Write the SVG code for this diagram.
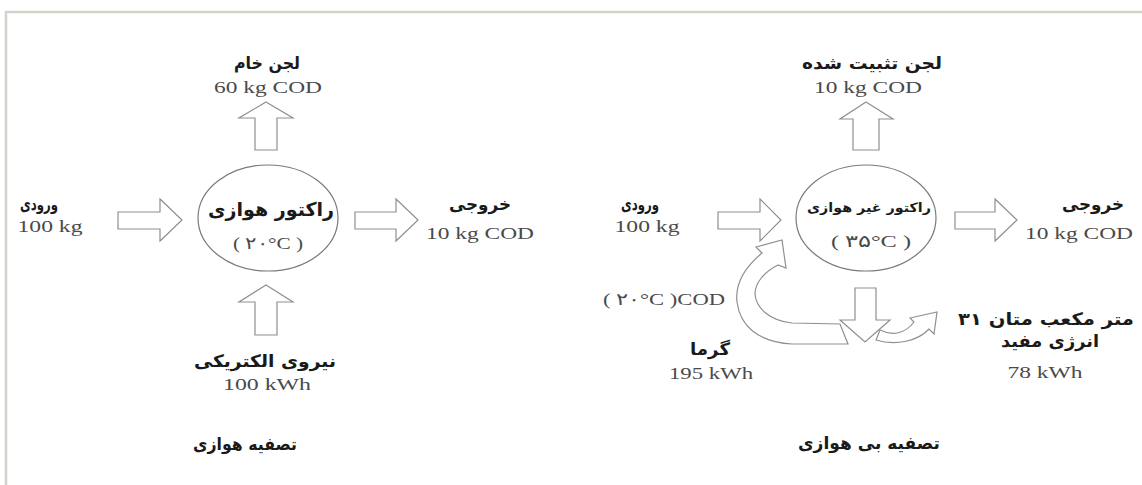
<svg xmlns="http://www.w3.org/2000/svg" width="1142" height="485" viewBox="0 0 1142 485">
<style>
.fa{font-family:"DejaVu Sans","Noto Sans",sans-serif;font-weight:bold;font-size:17px;fill:#1a1a1a;direction:rtl;text-anchor:middle}
.num{font-family:"Liberation Serif","Times New Roman",serif;font-size:17px;fill:#4a4a4a;text-anchor:middle}
.arr{fill:#fff;stroke:#8f8f8f;stroke-width:1.2;stroke-linejoin:miter}
.reac{fill:#fff;stroke:#7a7a7a;stroke-width:1.2}
.border{stroke:#d2d3cb;stroke-width:2.5;fill:none}
</style>
<rect width="1142" height="485" fill="#fff"/>
<path class="border" d="M6,485 V12 H1142"/>

<g id="connectors">
  <polygon class="arr" points="266,102 293,118 277,118 277,150 255,150 255,118 239,118"/>
  <polygon class="arr" points="266,285 293,302 277,302 277,335 255,335 255,302 239,302"/>
  <polygon class="arr" points="118,212 160,212 160,199 182,220 160,241 160,229 118,229"/>
  <polygon class="arr" points="355,212 396,212 396,199 418,220 396,241 396,229 355,229"/>
  <polygon class="arr" points="866,102 893,119 879,119 879,150 853,150 853,119 840,119"/>
  <polygon class="arr" points="718,212 760,212 760,199 781,220 760,241 760,229 718,229"/>
  <polygon class="arr" points="955,212 995,212 995,199 1017,220 995,241 995,229 955,229"/>
  <polygon class="arr" points="855,288 876,288 876,320 890,320 865,342 840,320 855,320"/>
  <path class="arr" d="M762,253 C744,268 735,285 737,302 C740,326 758,342 792,344 L848,344 L840,324 L792,323 C770,321 756,308 755,294 C755,283 764,272 778,265 L786,268 L782,240 L756,247 Z"/>
  <path class="arr" d="M880,330 C892,336 905,334 914,322 L910,318 L937,312 L934,334 L929,329 C918,341 896,346 876,340 Z"/>
</g>

<g id="aerobic-reactor">
  <ellipse class="reac" cx="268" cy="218" rx="70" ry="53"/>
  <text class="fa" x="271" y="216" style="font-size:19px" textLength="126" lengthAdjust="spacingAndGlyphs">راکتور هوازی</text>
  <text class="num" x="268" y="249" style="direction:ltr" textLength="70" lengthAdjust="spacingAndGlyphs">( ۲۰°C )</text>
</g>

<g id="anaerobic-reactor">
  <ellipse class="reac" cx="866" cy="218" rx="70" ry="53"/>
  <text class="fa" x="869" y="212" style="font-size:13px" textLength="124" lengthAdjust="spacingAndGlyphs">راکتور غیر هوازی</text>
  <text class="num" x="871" y="247" style="direction:ltr" textLength="80" lengthAdjust="spacingAndGlyphs">( ۳۵°C )</text>
</g>

<g id="aerobic-sludge">
  <text class="fa" x="267" y="69" textLength="66" lengthAdjust="spacingAndGlyphs">لجن خام</text>
  <text class="num" x="268" y="93" textLength="108" lengthAdjust="spacingAndGlyphs">60 kg COD</text>
</g>
<g id="aerobic-input">
  <text class="fa" x="39" y="210" textLength="38" lengthAdjust="spacingAndGlyphs">ورودی</text>
  <text class="num" x="50" y="232" textLength="65" lengthAdjust="spacingAndGlyphs">100 kg</text>
</g>
<g id="aerobic-output">
  <text class="fa" x="480" y="210" textLength="62" lengthAdjust="spacingAndGlyphs">خروجی</text>
  <text class="num" x="480" y="239" textLength="108" lengthAdjust="spacingAndGlyphs">10 kg COD</text>
</g>
<g id="aerobic-power">
  <text class="fa" x="265" y="367" textLength="142" lengthAdjust="spacingAndGlyphs">نیروی الکتریکی</text>
  <text class="num" x="267" y="390" textLength="88" lengthAdjust="spacingAndGlyphs">100 kWh</text>
</g>
<g id="aerobic-title">
  <text class="fa" x="245" y="450" textLength="104" lengthAdjust="spacingAndGlyphs">تصفیه هوازی</text>
</g>

<g id="anaerobic-sludge">
  <text class="fa" x="872" y="69" textLength="140" lengthAdjust="spacingAndGlyphs">لجن تثبیت شده</text>
  <text class="num" x="868" y="93" textLength="108" lengthAdjust="spacingAndGlyphs">10 kg COD</text>
</g>
<g id="anaerobic-input">
  <text class="fa" x="640" y="210" textLength="38" lengthAdjust="spacingAndGlyphs">ورودی</text>
  <text class="num" x="647" y="232" textLength="65" lengthAdjust="spacingAndGlyphs">100 kg</text>
</g>
<g id="anaerobic-output">
  <text class="fa" x="1093" y="210" textLength="62" lengthAdjust="spacingAndGlyphs">خروجی</text>
  <text class="num" x="1079" y="239" textLength="108" lengthAdjust="spacingAndGlyphs">10 kg COD</text>
</g>
<g id="anaerobic-cod">
  <text class="num" x="664" y="305" style="direction:ltr" textLength="122" lengthAdjust="spacingAndGlyphs">( ۲۰°C )COD</text>
</g>
<g id="anaerobic-heat">
  <text class="fa" x="710" y="355" textLength="40" lengthAdjust="spacingAndGlyphs">گرما</text>
  <text class="num" x="711" y="379" textLength="84" lengthAdjust="spacingAndGlyphs">195 kWh</text>
</g>
<g id="anaerobic-methane">
  <text class="fa" x="1046" y="325" textLength="176" lengthAdjust="spacingAndGlyphs">متر مکعب متان ۳۱</text>
  <text class="fa" x="1050" y="347" textLength="98" lengthAdjust="spacingAndGlyphs">انرژی مفید</text>
  <text class="num" x="1045" y="378" textLength="75" lengthAdjust="spacingAndGlyphs">78 kWh</text>
</g>
<g id="anaerobic-title">
  <text class="fa" x="869" y="449" textLength="142" lengthAdjust="spacingAndGlyphs">تصفیه بی هوازی</text>
</g>
</svg>
